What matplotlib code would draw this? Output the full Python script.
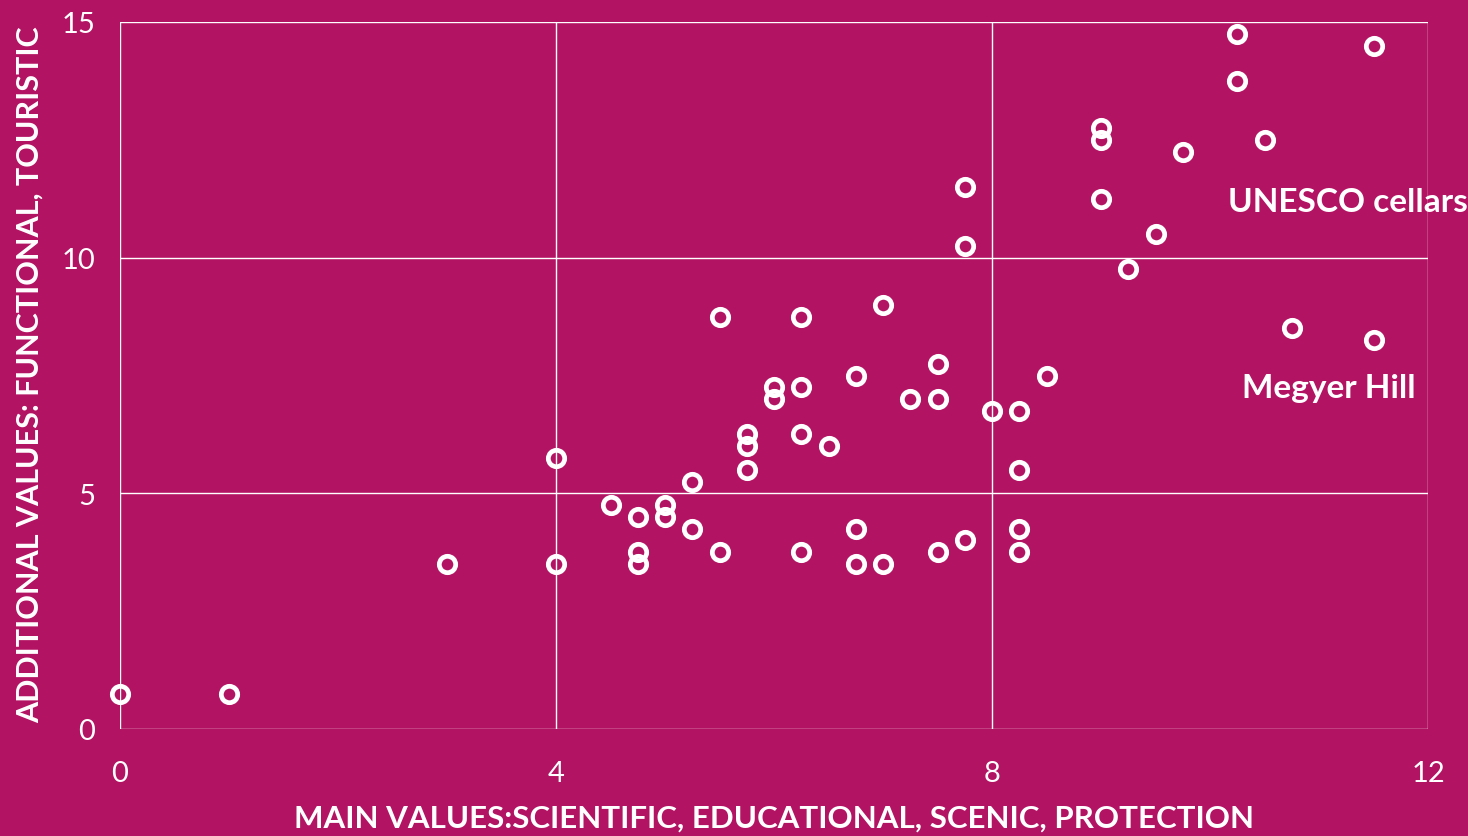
import matplotlib
matplotlib.use("Agg")
import matplotlib.pyplot as plt

# Data: main values (x) and additional values (y)
main_values = [0, 1, 3, 4, 4, 4.5, 4.75, 4.75, 4.75, 5, 5, 5.25, 5.25, 5.5, 5.5,
               5.75, 5.75, 5.75, 6, 6, 6.25, 6.25, 6.25, 6.25, 6.5, 6.75, 6.75, 6.75,
               7, 7, 7.25, 7.5, 7.5, 7.5, 7.75, 7.75, 7.75, 8, 8.25, 8.25, 8.25, 8.25,
               8.5, 9, 9, 9, 9.25, 9.5, 9.75, 10.25, 10.25, 10.5, 10.75, 11.5, 11.5]
additional_values = [0.75, 0.75, 3.5, 3.5, 5.75, 4.75, 4.5, 3.75, 3.5, 4.75, 4.5, 5.25, 4.25, 8.75, 3.75,
                     6.25, 6.0, 5.5, 7.25, 7.0, 8.75, 7.25, 6.25, 3.75, 6.0, 7.5, 4.25, 3.5,
                     9.0, 3.5, 7.0, 7.75, 7.0, 3.75, 11.5, 10.25, 4.0, 6.75, 6.75, 5.5, 4.25, 3.75,
                     7.5, 12.75, 12.5, 11.25, 9.75, 10.5, 12.25, 14.75, 13.75, 12.5, 8.5, 14.5, 8.25]
x_ticks = [0, 4, 8, 12]
y_ticks = [0, 5, 10, 15]
annotations = [("UNESCO cellars", 10.165, 11.2), ("Megyer Hill", 10.29, 7.24)]

bg = "#B31363"
fig = plt.figure(figsize=(14.68, 8.37), dpi=100, facecolor=bg)
ax = fig.add_axes([120/1468, 1 - 730/837, (1428-120)/1468, (730-23)/837])
ax.set_facecolor(bg)

ax.plot(main_values, additional_values, linestyle="none", marker="o", ms=11.8,
        mfc="none", mec="white", mew=3.4, zorder=3, clip_on=False)

ax.set_xlim(0, 12)
ax.set_ylim(0, 15)
ax.set_xticks(x_ticks)
ax.set_yticks(y_ticks)
ax.grid(True, color=(1, 1, 1, 0.3), linewidth=1.0)
ax.set_axisbelow(True)
for s in ax.spines.values():
    s.set_visible(False)
ax.tick_params(length=0, labelcolor="white", labelsize=21)
ax.tick_params(axis="x", pad=22)
ax.tick_params(axis="y", pad=18)
for lab in ax.get_xticklabels() + ax.get_yticklabels():
    lab.set_family("Lato")
    lab.set_fontweight("normal")

ax.set_xlabel("MAIN VALUES:SCIENTIFIC, EDUCATIONAL, SCENIC, PROTECTION",
              color="white", fontsize=22.5, fontweight="bold", family="Lato", labelpad=13)
ax.set_ylabel("ADDITIONAL VALUES: FUNCTIONAL, TOURISTIC",
              color="white", fontsize=22, fontweight="bold", family="Lato")
ax.yaxis.set_label_coords((30 - 120) / 1308, (730 - 375) / 707)
ax.yaxis.label.set_verticalalignment("center")

for txt, x, y in annotations:
    ax.text(x, y, txt, color="white", fontsize=24, fontweight="bold", family="Lato",
            ha="left", va="center", clip_on=False)

fig.savefig("out.png", dpi=100, facecolor=bg)
